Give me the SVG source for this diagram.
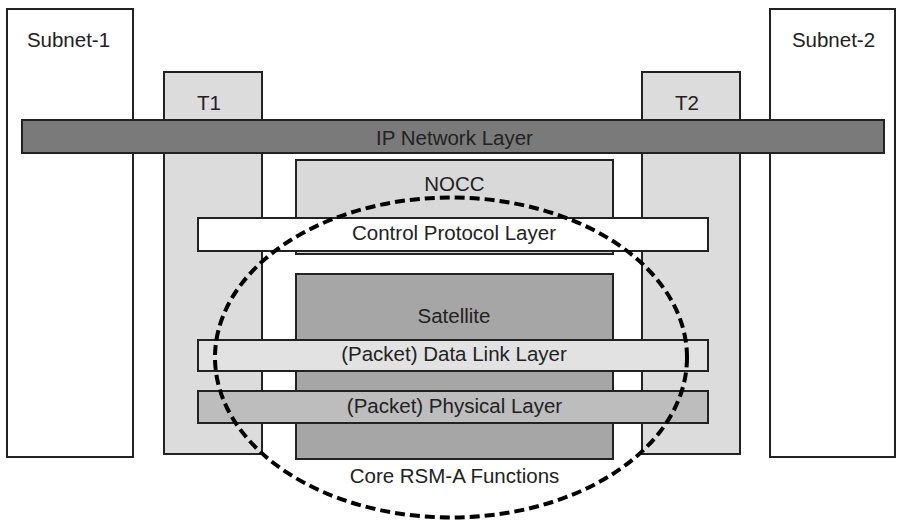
<svg xmlns="http://www.w3.org/2000/svg" width="897" height="520" viewBox="0 0 897 520">
<style>
  .box { stroke: #222; stroke-width: 2; }
  .lbl { font-family: "Liberation Sans", Arial, sans-serif; font-size: 20.5px; fill: #222; text-anchor: middle; }
  .ring { fill: none; stroke: #000; stroke-width: 4; stroke-dasharray: 10 5; }
</style>
<rect width="897" height="520" fill="#ffffff"/>
<g id="subnet1"><rect class="box" x="7" y="9" width="126" height="448" fill="#ffffff"/><text class="lbl" x="68.5" y="46.5">Subnet-1</text></g>
<g id="subnet2"><rect class="box" x="770" y="9" width="125" height="448" fill="#ffffff"/><text class="lbl" x="833.5" y="46.5">Subnet-2</text></g>
<g id="t1"><rect class="box" x="164" y="72" width="98" height="382" fill="#dcdcdc"/><text class="lbl" x="209" y="110">T1</text></g>
<g id="t2"><rect class="box" x="642" y="72" width="98" height="382" fill="#dcdcdc"/><text class="lbl" x="687" y="110">T2</text></g>
<g id="ip"><rect class="box" x="22" y="120" width="862" height="33" fill="#7a7a7a"/><text class="lbl" x="454.5" y="145">IP Network Layer</text></g>
<g id="nocc"><rect class="box" x="296" y="160" width="317" height="94" fill="#d9d9d9"/><text class="lbl" x="454.5" y="191">NOCC</text></g>
<g id="control"><rect class="box" x="198" y="218" width="510" height="33" fill="#ffffff"/><text class="lbl" x="454" y="240">Control Protocol Layer</text></g>
<g id="satellite"><rect class="box" x="296" y="274" width="317" height="185" fill="#a6a6a6"/><text class="lbl" x="454" y="323">Satellite</text></g>
<g id="datalink"><rect class="box" x="198" y="340" width="510" height="31" fill="#e2e2e2"/><text class="lbl" x="454" y="361">(Packet) Data Link Layer</text></g>
<g id="physical"><rect class="box" x="198" y="391" width="510" height="32" fill="#bdbdbd"/><text class="lbl" x="454.5" y="413">(Packet) Physical Layer</text></g>
<g id="core"><text class="lbl" x="454.5" y="483">Core RSM-A Functions</text></g>
<g id="connectors"><ellipse class="ring" cx="451" cy="357.5" rx="236" ry="160"/></g>
</svg>
